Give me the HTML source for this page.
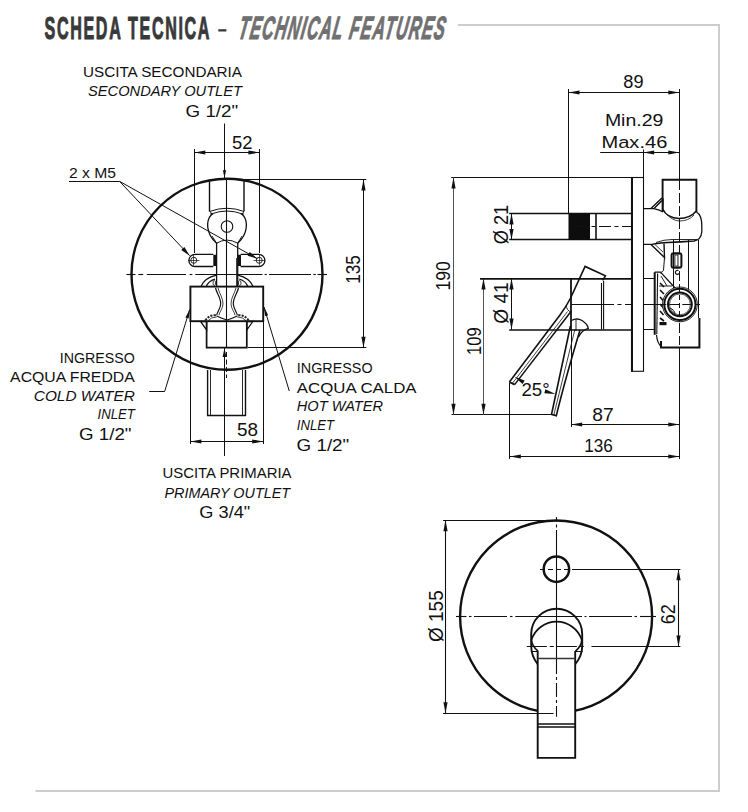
<!DOCTYPE html>
<html><head><meta charset="utf-8"><style>
html,body{margin:0;padding:0;background:#fff;}
svg{display:block;font-family:"Liberation Sans",sans-serif;}
</style></head><body>
<svg width="748" height="812" viewBox="0 0 748 812" shape-rendering="geometricPrecision">
<path d="M458 25 H719 V791 H35.5" stroke="#cdcdcd" stroke-width="2" fill="none"/>
<g transform="translate(44.5 38.9) scale(0.5 1)"><text x="0" y="0" font-size="32.2" font-weight="bold" fill="#393939" stroke="#393939" stroke-width="1.1" textLength="330" lengthAdjust="spacing">SCHEDA TECNICA</text></g>
<rect x="218.3" y="29.2" width="8.1" height="2.3" fill="#3a3a3a"/>
<g transform="translate(237.5 38.9) skewX(-10) scale(0.5 1)"><text x="0" y="0" font-size="32.2" font-weight="bold" font-style="italic" fill="#707070" stroke="#707070" stroke-width="1.1" textLength="412" lengthAdjust="spacing">TECHNICAL FEATURES</text></g>
<text x="83" y="77" font-size="15.2" textLength="159" lengthAdjust="spacingAndGlyphs" text-anchor="start" fill="#111" font-weight="normal">USCITA SECONDARIA</text>
<text x="88" y="96.2" font-size="15.2" font-style="italic" textLength="154" lengthAdjust="spacingAndGlyphs" text-anchor="start" fill="#111" font-weight="normal">SECONDARY OUTLET</text>
<text x="185.6" y="116.5" font-size="17.2" textLength="52.6" lengthAdjust="spacingAndGlyphs" text-anchor="start" fill="#111" font-weight="normal">G 1/2"</text>
<text x="69" y="178.3" font-size="15.2" textLength="47" lengthAdjust="spacingAndGlyphs" text-anchor="start" fill="#111" font-weight="normal">2 x M5</text>
<line x1="69" y1="181.5" x2="119.5" y2="181.5" stroke="#111" stroke-width="1.0"/>
<line x1="119.5" y1="181.3" x2="189.7" y2="255.7" stroke="#111" stroke-width="1.0"/>
<line x1="119.5" y1="181.3" x2="257.4" y2="258.7" stroke="#111" stroke-width="1.0"/>
<path d="M189.70 255.70 L181.24 249.94 L184.44 246.92Z" fill="#111"/>
<path d="M257.40 258.70 L247.60 255.72 L249.76 251.89Z" fill="#111"/>
<text x="232" y="148.8" font-size="18.2" textLength="20.5" lengthAdjust="spacingAndGlyphs" text-anchor="start" fill="#111" font-weight="normal">52</text>
<line x1="194.5" y1="149" x2="194.5" y2="253" stroke="#111" stroke-width="1.0"/>
<line x1="259.5" y1="149" x2="259.5" y2="253" stroke="#111" stroke-width="1.0"/>
<line x1="194.3" y1="152.5" x2="259.4" y2="152.5" stroke="#111" stroke-width="1.0"/>
<path d="M194.30 152.50 L205.30 150.40 L205.30 154.60Z" fill="#111"/>
<path d="M259.40 152.50 L248.40 154.60 L248.40 150.40Z" fill="#111"/>
<line x1="224.5" y1="123.5" x2="224.5" y2="178" stroke="#111" stroke-width="1.0"/>
<path d="M224.50 178.20 L222.90 170.20 L226.10 170.20Z" fill="#111"/>
<line x1="244" y1="179.5" x2="366.3" y2="179.5" stroke="#111" stroke-width="1.0"/>
<line x1="248" y1="347.5" x2="366.3" y2="347.5" stroke="#111" stroke-width="1.0"/>
<line x1="363.5" y1="179.6" x2="363.5" y2="347.8" stroke="#111" stroke-width="1.0"/>
<path d="M363.50 179.60 L365.60 190.60 L361.40 190.60Z" fill="#111"/>
<path d="M363.50 347.80 L361.40 336.80 L365.60 336.80Z" fill="#111"/>
<text transform="translate(359.8 269.5) rotate(-90)" x="0" y="0" font-size="20.2" textLength="28.5" lengthAdjust="spacingAndGlyphs" text-anchor="middle" fill="#111" font-weight="normal">135</text>
<line x1="126.4" y1="274.5" x2="135.5" y2="274.5" stroke="#111" stroke-width="1.1"/>
<line x1="138.3" y1="274.5" x2="143.2" y2="274.5" stroke="#111" stroke-width="1.1"/>
<line x1="146.8" y1="274.5" x2="186" y2="274.5" stroke="#111" stroke-width="1.1"/>
<line x1="189.6" y1="274.5" x2="192.4" y2="274.5" stroke="#111" stroke-width="1.1"/>
<line x1="195.2" y1="274.5" x2="262.5" y2="274.5" stroke="#111" stroke-width="1.1"/>
<line x1="264.6" y1="274.5" x2="266.8" y2="274.5" stroke="#111" stroke-width="1.1"/>
<line x1="269" y1="274.5" x2="311" y2="274.5" stroke="#111" stroke-width="1.1"/>
<line x1="313.3" y1="274.5" x2="315.8" y2="274.5" stroke="#111" stroke-width="1.1"/>
<line x1="317.5" y1="274.5" x2="327" y2="274.5" stroke="#111" stroke-width="1.1"/>
<circle cx="227.0" cy="274.3" r="95.5" stroke="#111" stroke-width="2.4" fill="none"/>
<path d="M209.5 180 V211.5 M244 180 V211.5" stroke="#111" stroke-width="1.4" fill="none" />
<path d="M209.5 211.5 Q227 205 244 211.5" stroke="#111" stroke-width="1.0" fill="none" />
<path d="M211 214 Q227 208 242.5 214" stroke="#111" stroke-width="1.0" fill="none" />
<path d="M211.5 214.5 C205.5 221 206 234 216.6 243.2 M242.5 214.5 C248.5 221 248 234 237.7 243.2" stroke="#111" stroke-width="1.3" fill="none" />
<path d="M212 236 L216.6 243.2 M242 236 L237.7 243.2" stroke="#111" stroke-width="0.9" fill="none" />
<path d="M210 211.5 L213.5 214.5 L211 215.5 Z M244 211.5 L240.5 214.5 L243 215.5 Z" fill="#111"/>
<circle cx="227" cy="226.5" r="5.8" stroke="#111" stroke-width="1.1" fill="none"/>
<path d="M216.6 243 V287 M237.7 243 V287" stroke="#111" stroke-width="1.3" fill="none" />
<path d="M216.6 243.2 Q227 237 237.7 243.2" stroke="#111" stroke-width="1.0" fill="none" />
<line x1="236.5" y1="258" x2="236.5" y2="287" stroke="#111" stroke-width="0.8"/>
<path d="M213.3 254.3 H195 A6.1 6.1 0 0 0 195 266.5 H213.3" stroke="#111" stroke-width="1.3" fill="none" />
<path d="M240.6 254.3 H258.8 A6.1 6.1 0 0 1 258.8 266.5 H240.6" stroke="#111" stroke-width="1.3" fill="none" />
<rect x="213.3" y="254.8" width="3.3" height="11.2" fill="#111"/>
<rect x="237.7" y="254.8" width="3.3" height="11.2" fill="#111"/>
<circle cx="193.8" cy="260.3" r="3.0" stroke="#111" stroke-width="0.9" fill="none"/>
<line x1="188" y1="260.5" x2="199.5" y2="260.5" stroke="#111" stroke-width="0.7"/>
<line x1="193.5" y1="255" x2="193.5" y2="265.5" stroke="#111" stroke-width="0.7"/>
<circle cx="259.2" cy="260.3" r="3.0" stroke="#111" stroke-width="0.9" fill="none"/>
<line x1="253.5" y1="260.5" x2="265" y2="260.5" stroke="#111" stroke-width="0.7"/>
<line x1="259.5" y1="255" x2="259.5" y2="265.5" stroke="#111" stroke-width="0.7"/>
<path d="M216.6 275.2 Q204 278 200.7 287 M215 279 Q208 281 206 287" stroke="#111" stroke-width="1.3" fill="none" />
<path d="M237.7 275.2 Q250 278 253.3 287 M239.2 279 Q246 281 248 287" stroke="#111" stroke-width="1.3" fill="none" />
<ellipse cx="214.3" cy="283" rx="1.3" ry="2.5" fill="none" stroke="#111" stroke-width="0.8"/>
<ellipse cx="239.7" cy="283" rx="1.3" ry="2.5" fill="none" stroke="#111" stroke-width="0.8"/>
<rect x="190.4" y="286.6" width="72.8" height="34.6" fill="#fff" stroke="#111" stroke-width="1.9"/>
<path d="M215.5 288 C217 294 221 298 220.7 304 C220.5 309 217 312 216.7 315.2" stroke="#111" stroke-width="1.2" fill="none" />
<path d="M218 288 C219.5 294 223.2 298 223 304 C222.8 309 219.3 312 219 315.2" stroke="#111" stroke-width="0.8" fill="none" />
<path d="M238.5 288 C237 294 233 298 233.3 304 C233.5 309 237 312 237.3 315.2" stroke="#111" stroke-width="1.2" fill="none" />
<path d="M236 288 C234.5 294 230.8 298 231 304 C231.2 309 234.7 312 235 315.2" stroke="#111" stroke-width="0.8" fill="none" />
<path d="M205.4 320.6 Q209 314.5 216.7 315.2 M248.6 320.6 Q245 314.5 237.3 315.2" stroke="#222" stroke-width="2.0" fill="none" stroke-dasharray="2.2 1.2"/>
<path d="M208 320.8 Q211 317 216.7 317" stroke="#111" stroke-width="0.8" fill="none" />
<path d="M246 320.8 Q243 317 237.3 317" stroke="#111" stroke-width="0.8" fill="none" />
<path d="M216.7 316 Q222 318.5 227 320 Q232 318.5 237.3 316" stroke="#111" stroke-width="1.2" fill="none" />
<path d="M206.6 321 V347.7 H246.8 V321" stroke="#111" stroke-width="1.7" fill="none" />
<path d="M200.5 321.5 L206.6 321.5 L206.6 330 Z M252.8 321.5 L246.8 321.5 L246.8 330 Z" fill="none" stroke="#111" stroke-width="1.3"/>
<line x1="224.5" y1="348" x2="224.5" y2="456" stroke="#111" stroke-width="1.0"/>
<path d="M224.50 348.00 L226.40 357.00 L222.60 357.00Z" fill="#111"/>
<line x1="226.5" y1="180" x2="226.5" y2="348" stroke="#111" stroke-width="1.1"/>
<line x1="226.5" y1="352" x2="226.5" y2="378" stroke="#111" stroke-width="1.0" stroke-dasharray="5 2.5" stroke-dashoffset="0"/>
<path d="M207.6 370 V415.5 H245.5 V370" stroke="#111" stroke-width="1.4" fill="none" />
<line x1="210.5" y1="370" x2="210.5" y2="415" stroke="#111" stroke-width="0.9"/>
<line x1="242.5" y1="370" x2="242.5" y2="415" stroke="#111" stroke-width="0.9"/>
<line x1="190.5" y1="321" x2="190.5" y2="444" stroke="#111" stroke-width="1.0"/>
<line x1="263.5" y1="321" x2="263.5" y2="444" stroke="#111" stroke-width="1.0"/>
<line x1="190.4" y1="441.5" x2="263.2" y2="441.5" stroke="#111" stroke-width="1.0"/>
<path d="M190.40 441.50 L201.40 439.40 L201.40 443.60Z" fill="#111"/>
<path d="M263.20 441.50 L252.20 443.60 L252.20 439.40Z" fill="#111"/>
<text x="237" y="436" font-size="18.2" textLength="21" lengthAdjust="spacingAndGlyphs" text-anchor="start" fill="#111" font-weight="normal">58</text>
<line x1="149.2" y1="391.5" x2="164.8" y2="391.5" stroke="#111" stroke-width="1.0"/>
<line x1="164.8" y1="391" x2="189.7" y2="309.4" stroke="#111" stroke-width="1.0"/>
<path d="M189.70 309.40 L188.70 318.50 L185.45 317.51Z" fill="#111"/>
<line x1="264" y1="307" x2="289.3" y2="391.1" stroke="#111" stroke-width="1.0"/>
<path d="M264.00 307.00 L268.22 315.13 L264.96 316.11Z" fill="#111"/>
<text x="134.8" y="362.9" font-size="15.2" textLength="75" lengthAdjust="spacingAndGlyphs" text-anchor="end" fill="#111" font-weight="normal">INGRESSO</text>
<text x="134.8" y="382.1" font-size="15.2" textLength="124.7" lengthAdjust="spacingAndGlyphs" text-anchor="end" fill="#111" font-weight="normal">ACQUA FREDDA</text>
<text x="134.8" y="400.6" font-size="15.2" font-style="italic" textLength="101" lengthAdjust="spacingAndGlyphs" text-anchor="end" fill="#111" font-weight="normal">COLD WATER</text>
<text x="134.8" y="419.4" font-size="15.2" font-style="italic" textLength="37.3" lengthAdjust="spacingAndGlyphs" text-anchor="end" fill="#111" font-weight="normal">INLET</text>
<text x="131.5" y="440.2" font-size="17.2" textLength="52.5" lengthAdjust="spacingAndGlyphs" text-anchor="end" fill="#111" font-weight="normal">G 1/2"</text>
<text x="296.8" y="373.3" font-size="15.2" textLength="75.8" lengthAdjust="spacingAndGlyphs" text-anchor="start" fill="#111" font-weight="normal">INGRESSO</text>
<text x="296.8" y="392.8" font-size="15.2" textLength="119.8" lengthAdjust="spacingAndGlyphs" text-anchor="start" fill="#111" font-weight="normal">ACQUA CALDA</text>
<text x="296.8" y="411" font-size="15.2" font-style="italic" textLength="86.2" lengthAdjust="spacingAndGlyphs" text-anchor="start" fill="#111" font-weight="normal">HOT WATER</text>
<text x="296.8" y="429.9" font-size="15.2" font-style="italic" textLength="37.1" lengthAdjust="spacingAndGlyphs" text-anchor="start" fill="#111" font-weight="normal">INLET</text>
<text x="296.5" y="451.3" font-size="17.2" textLength="52.8" lengthAdjust="spacingAndGlyphs" text-anchor="start" fill="#111" font-weight="normal">G 1/2"</text>
<text x="162.4" y="478.4" font-size="15.2" textLength="129.2" lengthAdjust="spacingAndGlyphs" text-anchor="start" fill="#111" font-weight="normal">USCITA PRIMARIA</text>
<text x="164.5" y="497.7" font-size="15.2" font-style="italic" textLength="125.6" lengthAdjust="spacingAndGlyphs" text-anchor="start" fill="#111" font-weight="normal">PRIMARY OUTLET</text>
<text x="199.3" y="518.4" font-size="17.2" textLength="51" lengthAdjust="spacingAndGlyphs" text-anchor="start" fill="#111" font-weight="normal">G 3/4"</text>
<line x1="568.5" y1="89" x2="568.5" y2="213.4" stroke="#111" stroke-width="1.0"/>
<line x1="679.5" y1="89" x2="679.5" y2="179.7" stroke="#111" stroke-width="1.0"/>
<line x1="568.5" y1="92.5" x2="679.3" y2="92.5" stroke="#111" stroke-width="1.0"/>
<path d="M568.50 92.50 L579.50 90.40 L579.50 94.60Z" fill="#111"/>
<path d="M679.30 92.50 L668.30 94.60 L668.30 90.40Z" fill="#111"/>
<text x="623.3" y="88.4" font-size="18.0" textLength="20.2" lengthAdjust="spacingAndGlyphs" text-anchor="start" fill="#111" font-weight="normal">89</text>
<text x="604.9" y="125.5" font-size="17.2" textLength="58.5" lengthAdjust="spacingAndGlyphs" text-anchor="start" fill="#111" font-weight="normal">Min.29</text>
<text x="601.5" y="148.3" font-size="17.2" textLength="65.8" lengthAdjust="spacingAndGlyphs" text-anchor="start" fill="#111" font-weight="normal">Max.46</text>
<line x1="600.2" y1="152.5" x2="679.3" y2="152.5" stroke="#111" stroke-width="1.0"/>
<line x1="643.5" y1="149.5" x2="643.5" y2="177.5" stroke="#111" stroke-width="1.0"/>
<path d="M643.20 152.50 L654.20 150.40 L654.20 154.60Z" fill="#111"/>
<path d="M679.30 152.50 L668.30 154.60 L668.30 150.40Z" fill="#111"/>
<line x1="451.2" y1="177.5" x2="631" y2="177.5" stroke="#111" stroke-width="1.0"/>
<line x1="451.6" y1="414.5" x2="554.5" y2="414.5" stroke="#111" stroke-width="1.0"/>
<line x1="453.5" y1="177.5" x2="453.5" y2="414.7" stroke="#555" stroke-width="1.0"/>
<path d="M453.50 177.50 L455.60 188.50 L451.40 188.50Z" fill="#111"/>
<path d="M453.50 414.70 L451.40 403.70 L455.60 403.70Z" fill="#111"/>
<text transform="translate(450.3 275.8) rotate(-90)" x="0" y="0" font-size="20.2" textLength="29.2" lengthAdjust="spacingAndGlyphs" text-anchor="middle" fill="#111" font-weight="normal">190</text>
<line x1="480" y1="278.5" x2="631" y2="278.5" stroke="#111" stroke-width="1.0"/>
<line x1="483.5" y1="278.4" x2="483.5" y2="414.7" stroke="#555" stroke-width="1.0"/>
<path d="M483.50 278.40 L485.60 289.40 L481.40 289.40Z" fill="#111"/>
<path d="M483.50 414.70 L481.40 403.70 L485.60 403.70Z" fill="#111"/>
<text transform="translate(481.1 341.2) rotate(-90)" x="0" y="0" font-size="20.2" textLength="27.5" lengthAdjust="spacingAndGlyphs" text-anchor="middle" fill="#111" font-weight="normal">109</text>
<line x1="509.2" y1="213.5" x2="631" y2="213.5" stroke="#111" stroke-width="1.3"/>
<line x1="509.2" y1="239.5" x2="631" y2="239.5" stroke="#111" stroke-width="1.3"/>
<line x1="511.5" y1="213.6" x2="511.5" y2="239.8" stroke="#111" stroke-width="1.0"/>
<path d="M511.50 213.60 L513.60 224.40 L509.40 224.40Z" fill="#111"/>
<path d="M511.50 239.80 L509.40 229.00 L513.60 229.00Z" fill="#111"/>
<text transform="translate(507.6 224.6) rotate(-90)" x="0" y="0" font-size="20.2" textLength="39.5" lengthAdjust="spacingAndGlyphs" text-anchor="middle" fill="#111" font-weight="normal">Ø 21</text>
<rect x="568.5" y="213.5" width="21.5" height="26.4" fill="#0d0d0d"/>
<line x1="596" y1="213.5" x2="596" y2="239.9" stroke="#111" stroke-width="1.6"/>
<line x1="576" y1="226.5" x2="631" y2="226.5" stroke="#111" stroke-width="1.0" stroke-dasharray="12 3.5 4 3.5" stroke-dashoffset="0"/>
<line x1="480" y1="279" x2="631" y2="279" stroke="#111" stroke-width="1.5"/>
<line x1="509.2" y1="330" x2="631" y2="330" stroke="#111" stroke-width="1.5"/>
<line x1="511.5" y1="278.6" x2="511.5" y2="329.6" stroke="#111" stroke-width="1.0"/>
<path d="M511.50 278.60 L513.60 289.60 L509.40 289.60Z" fill="#111"/>
<path d="M511.50 329.60 L509.40 318.60 L513.60 318.60Z" fill="#111"/>
<text transform="translate(508 303) rotate(-90)" x="0" y="0" font-size="20.2" textLength="41.4" lengthAdjust="spacingAndGlyphs" text-anchor="middle" fill="#111" font-weight="normal">Ø 41</text>
<line x1="571" y1="278.4" x2="571" y2="330" stroke="#111" stroke-width="1.8"/>
<line x1="571.2" y1="304.5" x2="600" y2="304.5" stroke="#111" stroke-width="1.0"/>
<line x1="600" y1="304.5" x2="700" y2="304.5" stroke="#111" stroke-width="1.0" stroke-dasharray="14 3.5 4 3.5" stroke-dashoffset="0"/>
<path d="M601.5 283 V329.6 M603.6 281 V329.6" stroke="#111" stroke-width="1.1" fill="none" />
<path d="M509.4 382 L560 315 Q566 307 570.6 298 L585.1 266.4 L605.4 275.8 L602.7 280.3" stroke="#111" stroke-width="1.6" fill="none" />
<path d="M514.6 384.6 L571 311.5" stroke="#111" stroke-width="1.5" fill="none" />
<path d="M512.2 383.6 L567.5 311.5" stroke="#111" stroke-width="0.8" fill="none" />
<path d="M509.4 382 L514.6 384.6" stroke="#111" stroke-width="1.8" fill="none" />
<path d="M566 305 Q567 311 571 312" stroke="#111" stroke-width="0.9" fill="none" />
<path d="M570.4 326 L551.5 414.5 L556.3 415.7 Q565 380 580 330" stroke="#111" stroke-width="1.6" fill="none" />
<line x1="575" y1="329" x2="553.8" y2="415" stroke="#111" stroke-width="0.8"/>
<path d="M571.3 320.5 Q577 317.5 582 320.5 Q587.5 324 588.3 328.4 Q582 330 578.5 337" stroke="#111" stroke-width="1.4" fill="none" />
<path d="M576 320 V331" stroke="#111" stroke-width="0.9" fill="none" />
<text x="521.5" y="395.6" font-size="18.5" textLength="28.2" lengthAdjust="spacingAndGlyphs" text-anchor="start" fill="#111" font-weight="normal">25°</text>
<path d="M514.60 376.80 L524.66 380.47 L522.48 384.05Z" fill="#111"/>
<path d="M555.50 394.00 L544.33 393.27 L545.38 389.21Z" fill="#111"/>
<line x1="509.5" y1="383" x2="509.5" y2="459" stroke="#111" stroke-width="1.0"/>
<line x1="571.5" y1="330" x2="571.5" y2="427" stroke="#111" stroke-width="1.0"/>
<line x1="679.5" y1="348" x2="679.5" y2="459" stroke="#111" stroke-width="1.0"/>
<line x1="571.2" y1="424.5" x2="679.3" y2="424.5" stroke="#111" stroke-width="1.0"/>
<path d="M571.20 424.50 L582.20 422.40 L582.20 426.60Z" fill="#111"/>
<path d="M679.30 424.50 L668.30 426.60 L668.30 422.40Z" fill="#111"/>
<text x="592.2" y="420.9" font-size="18.2" textLength="21.4" lengthAdjust="spacingAndGlyphs" text-anchor="start" fill="#111" font-weight="normal">87</text>
<line x1="509.8" y1="456.5" x2="679.3" y2="456.5" stroke="#111" stroke-width="1.0"/>
<path d="M509.80 456.50 L520.80 454.40 L520.80 458.60Z" fill="#111"/>
<path d="M679.30 456.50 L668.30 458.60 L668.30 454.40Z" fill="#111"/>
<text x="584.2" y="451.6" font-size="18.2" textLength="28.6" lengthAdjust="spacingAndGlyphs" text-anchor="start" fill="#111" font-weight="normal">136</text>
<rect x="631.5" y="177.5" width="12" height="193.8" fill="#fff" stroke="#111" stroke-width="1.1"/>
<line x1="632" y1="177.6" x2="632" y2="371.6" stroke="#111" stroke-width="2.0"/>
<path d="M643.3 208.6 H654 L662.6 200 M654 208.6 Q660 210 663 212" stroke="#111" stroke-width="1.2" fill="none" />
<path d="M662.6 212 V179.7 H696.4 V212" stroke="#111" stroke-width="1.9" fill="none" />
<path d="M662.6 209 Q667 218 679 218.5 Q690 218.5 696.4 211" stroke="#111" stroke-width="1.6" fill="none" />
<path d="M666 213.5 Q672 220.5 679 221 Q689 221 694 215" stroke="#111" stroke-width="0.8" fill="none" />
<path d="M696.4 212 Q702 215 701.8 226 V232 Q701 240 694 241 Q680 242 668 242.5 Q658 243 652 244.4 H643.3" stroke="#111" stroke-width="1.3" fill="none" />
<line x1="679.5" y1="180" x2="679.5" y2="345" stroke="#111" stroke-width="1.0" stroke-dasharray="10 3" stroke-dashoffset="0"/>
<path d="M651 208.6 L661.5 198.5 Q663.5 198 663 201 L662.8 209" stroke="#111" stroke-width="1.4" fill="none" />
<path d="M654.5 208 L661 201" stroke="#111" stroke-width="0.8" fill="none" />
<path d="M651 244.4 L664.5 257.5 L664 243.5" stroke="#111" stroke-width="1.4" fill="none" />
<path d="M655 244.6 L663 252" stroke="#111" stroke-width="0.8" fill="none" />
<path d="M656 242.5 Q664 239.5 672 239.5 H697" stroke="#111" stroke-width="0.9" fill="none" />
<path d="M664.5 257.5 L663.5 270.5 L660.5 273" stroke="#111" stroke-width="1.0" fill="none" />
<rect x="670.6" y="252.3" width="11.8" height="16.4" rx="3.2" fill="#111"/>
<rect x="672.6" y="254.6" width="7.8" height="11.8" fill="#fff"/>
<rect x="674.3" y="254.6" width="4.2" height="11.8" fill="#333"/>
<rect x="675.4" y="255.5" width="2" height="10" fill="#fff"/>
<path d="M678.5 270.5 Q675 270 675.5 273 Q676.5 275.5 679.5 273.5" stroke="#111" stroke-width="1.2" fill="none" />
<line x1="673.5" y1="240" x2="673.5" y2="290" stroke="#111" stroke-width="1.0"/>
<line x1="688.5" y1="240" x2="688.5" y2="290" stroke="#111" stroke-width="1.0"/>
<line x1="698.5" y1="240" x2="698.5" y2="318" stroke="#111" stroke-width="1.0"/>
<path d="M654.7 272.2 V334.8" stroke="#111" stroke-width="2.0" fill="none" />
<path d="M657.6 273.5 L656.8 334" stroke="#111" stroke-width="1.1" fill="none" />
<path d="M654.7 272.2 H660.5 L676 289" stroke="#111" stroke-width="1.2" fill="none" />
<path d="M661 276 L667 286 M659 286 H672" stroke="#111" stroke-width="0.9" fill="none" />
<path d="M660 283 L664 287 M660 290 L664 294 M660 297 L663.5 301 M660 304 L663.5 308 M660 311 L663.5 315 M660 318 L664 321" stroke="#111" stroke-width="1.6" fill="none" />
<rect x="659.5" y="322" width="7" height="3.2" fill="#111"/>
<path d="M656.5 334.8 Q657 343 661.5 347" stroke="#111" stroke-width="1.2" fill="none" />
<path d="M661 341 V347.6 H699.4 V318" stroke="#111" stroke-width="2.0" fill="none" />
<circle cx="679.9" cy="304.4" r="17.4" fill="#fff" stroke="none"/>
<circle cx="679.9" cy="304.4" r="17.4" stroke="#111" stroke-width="0.9" fill="none"/>
<circle cx="679.9" cy="304.4" r="15.6" stroke="#111" stroke-width="2.0" fill="none"/>
<circle cx="679.9" cy="304.4" r="11.9" stroke="#111" stroke-width="2.0" fill="none"/>
<circle cx="679.9" cy="304.4" r="10.4" stroke="#111" stroke-width="0.7" fill="none"/>
<path d="M669.5 308 Q675 309.5 675 315" stroke="#111" stroke-width="1.0" fill="none" />
<line x1="679.5" y1="287" x2="679.5" y2="322" stroke="#111" stroke-width="1.0" stroke-dasharray="5 3" stroke-dashoffset="0"/>
<line x1="643.3" y1="278.5" x2="654.4" y2="278.5" stroke="#111" stroke-width="1.0"/>
<line x1="643.3" y1="329.5" x2="654.4" y2="329.5" stroke="#111" stroke-width="1.0"/>
<line x1="643.3" y1="304.5" x2="700" y2="304.5" stroke="#111" stroke-width="1.0" stroke-dasharray="10 3" stroke-dashoffset="0"/>
<line x1="443" y1="520.5" x2="556" y2="520.5" stroke="#111" stroke-width="1.1"/>
<line x1="445.5" y1="520.3" x2="445.5" y2="713.3" stroke="#111" stroke-width="1.1"/>
<path d="M445.50 520.30 L447.60 531.30 L443.40 531.30Z" fill="#111"/>
<path d="M445.50 713.30 L443.40 702.30 L447.60 702.30Z" fill="#111"/>
<text transform="translate(442.6 616.2) rotate(-90)" x="0" y="0" font-size="20.2" textLength="51.8" lengthAdjust="spacingAndGlyphs" text-anchor="middle" fill="#111" font-weight="normal">Ø 155</text>
<circle cx="556.1" cy="616.5" r="96.0" stroke="#111" stroke-width="2.4" fill="none"/>
<circle cx="556.4" cy="569.2" r="12.7" stroke="#111" stroke-width="2.5" fill="none"/>
<line x1="456" y1="616.5" x2="466.5" y2="616.5" stroke="#111" stroke-width="1.1"/>
<line x1="469" y1="616.5" x2="471.5" y2="616.5" stroke="#111" stroke-width="1.1"/>
<line x1="474" y1="616.5" x2="507" y2="616.5" stroke="#111" stroke-width="1.1"/>
<line x1="510" y1="616.5" x2="512.5" y2="616.5" stroke="#111" stroke-width="1.1"/>
<line x1="515.3" y1="616.5" x2="582" y2="616.5" stroke="#111" stroke-width="1.1"/>
<line x1="584.5" y1="616.5" x2="586.5" y2="616.5" stroke="#111" stroke-width="1.1"/>
<line x1="589" y1="616.5" x2="632" y2="616.5" stroke="#111" stroke-width="1.1"/>
<line x1="634.5" y1="616.5" x2="637" y2="616.5" stroke="#111" stroke-width="1.1"/>
<line x1="640" y1="616.5" x2="656" y2="616.5" stroke="#111" stroke-width="1.1"/>
<line x1="556.5" y1="517" x2="556.5" y2="522" stroke="#111" stroke-width="1.1"/>
<line x1="556.5" y1="524.5" x2="556.5" y2="527.5" stroke="#111" stroke-width="1.1"/>
<line x1="556.5" y1="530" x2="556.5" y2="708" stroke="#111" stroke-width="1.1"/>
<line x1="540" y1="569.5" x2="575" y2="569.5" stroke="#111" stroke-width="1.1" stroke-dasharray="5 3" stroke-dashoffset="0"/>
<line x1="575" y1="569.5" x2="680.4" y2="569.5" stroke="#111" stroke-width="1.1"/>
<line x1="526.8" y1="646.5" x2="586" y2="646.5" stroke="#111" stroke-width="1.1" stroke-dasharray="20 3 4 3" stroke-dashoffset="0"/>
<line x1="591.5" y1="646.5" x2="680.4" y2="646.5" stroke="#111" stroke-width="1.1"/>
<line x1="678.5" y1="569.2" x2="678.5" y2="646.4" stroke="#111" stroke-width="1.1"/>
<path d="M678.50 569.20 L680.60 580.20 L676.40 580.20Z" fill="#111"/>
<path d="M678.50 646.40 L676.40 635.40 L680.60 635.40Z" fill="#111"/>
<text transform="translate(674.5 614.3) rotate(-90)" x="0" y="0" font-size="20" textLength="20" lengthAdjust="spacingAndGlyphs" text-anchor="middle" fill="#111" font-weight="normal">62</text>
<path d="M537.7 664.2 Q531.2 656 531.2 646 V634.2 A25.5 25.5 0 0 1 582.2 634.2 V646 Q582.2 656 575.2 664.2" stroke="#111" stroke-width="1.9" fill="none" />
<path d="M538 651.2 Q532 646 531.4 640 A26.5 26.5 0 0 1 581.8 640 Q581.5 646 575.5 651.2" stroke="#111" stroke-width="1.7" fill="none" />
<line x1="531" y1="651.5" x2="538" y2="651.5" stroke="#111" stroke-width="1.0"/>
<line x1="575.2" y1="651.5" x2="582.5" y2="651.5" stroke="#111" stroke-width="1.0"/>
<rect x="537.7" y="660" width="37.5" height="97.9" fill="#fff"/>
<path d="M537.7 651 V757.9 H575.2 V651" stroke="#111" stroke-width="1.9" fill="none" />
<line x1="537.7" y1="658.5" x2="575.2" y2="658.5" stroke="#333" stroke-width="1.3"/>
<line x1="537.7" y1="724" x2="575.2" y2="724" stroke="#111" stroke-width="1.6"/>
<line x1="537.7" y1="727" x2="575.2" y2="727" stroke="#111" stroke-width="1.6"/>
<line x1="556.5" y1="660" x2="556.5" y2="716.8" stroke="#111" stroke-width="1.1" stroke-dasharray="14 3 3 3" stroke-dashoffset="0"/>
<line x1="443" y1="713.5" x2="553.6" y2="713.5" stroke="#111" stroke-width="1.1"/>
</svg>
</body></html>
